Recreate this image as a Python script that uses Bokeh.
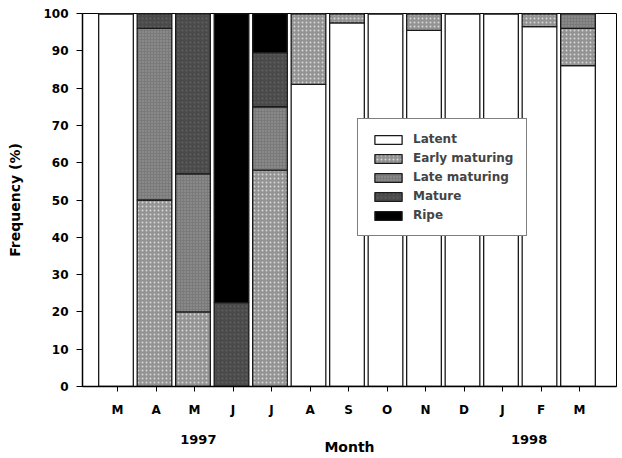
from bokeh.plotting import figure
from bokeh.models import ColumnDataSource, FixedTicker, Legend, LegendItem, LinearAxis, Range1d
from bokeh.embed import file_html
from bokeh.resources import INLINE

# ---- data ----
months = ["M", "A", "M", "J", "J", "A", "S", "O", "N", "D", "J", "F", "M"]
month_pos = [1, 2, 3, 4, 5, 6, 7, 8, 9, 10, 11, 12, 13]
stage_names = ["Latent", "Early maturing", "Late maturing", "Mature", "Ripe"]
latent = [100, 0, 0, 0, 0, 81, 97.5, 100, 95.5, 100, 100, 96.5, 86]
early = [0, 50, 20, 0, 58, 19, 2.5, 0, 4.5, 0, 0, 3.5, 10]
late = [0, 46, 37, 0, 17, 0, 0, 0, 0, 0, 0, 0, 4]
mature = [0, 4, 43, 22.5, 14.5, 0, 0, 0, 0, 0, 0, 0, 0]
ripe = [0, 0, 0, 77.5, 10.5, 0, 0, 0, 0, 0, 0, 0, 0]
year_labels = ["1997", "1998"]
year_pos = [3.1, 11.69]
y_ticks = [0, 10, 20, 30, 40, 50, 60, 70, 80, 90, 100]

FONT = "DejaVu Sans"
BAR_SHIFT = -0.04

src = ColumnDataSource(dict(x=[m + BAR_SHIFT for m in month_pos], latent=latent,
                            early=early, late=late, mature=mature, ripe=ripe))

p = figure(width=622, height=458, output_backend="svg", toolbar_location=None,
           x_range=Range1d(0.09, 13.96), y_range=Range1d(0, 100),
           min_border_left=82, min_border_right=6, min_border_top=13,
           min_border_bottom=72, background_fill_color="white",
           border_fill_color="white")
p.outline_line_color = "black"
p.outline_line_width = 1
p.xgrid.visible = False
p.ygrid.visible = False

keys = ["latent", "early", "late", "mature", "ripe"]
rs = p.vbar_stack(keys, x="x", width=0.9, source=src,
                  fill_color=["white", "#939393", "#7a7a7a", "#4a4a4a", "black"],
                  line_color="#1a1a1a", line_width=1.3,
                  hatch_pattern=[" ", "dot", "dot", "dot", " "],
                  hatch_color=["white", "#d6d6d6", "#a0a0a0", "#5e5e5e", "black"],
                  hatch_scale=[4, 4, 3, 4, 4], hatch_weight=1)

# month axis
xa = p.xaxis[0]
xa.ticker = FixedTicker(ticks=month_pos + [14])
overrides = {m: lab for m, lab in zip(month_pos, months)}
overrides[14] = ""
xa.major_label_overrides = overrides
xa.major_tick_out = 5
xa.major_tick_in = 0
xa.minor_tick_out = 0
xa.minor_tick_in = 0
xa.axis_line_width = 1.5
xa.major_label_standoff = 11
xa.major_label_text_font = FONT
xa.major_label_text_font_style = "bold"
xa.major_label_text_font_size = "12px"
xa.major_label_text_color = "black"

# year axis (second row) carrying the "Month" title
ya2 = LinearAxis(ticker=FixedTicker(ticks=year_pos),
                 major_label_overrides={yp: yl for yp, yl in zip(year_pos, year_labels)})
ya2.axis_line_color = None
ya2.major_tick_line_color = None
ya2.minor_tick_line_color = None
ya2.major_tick_out = 0
ya2.major_tick_in = 0
ya2.minor_tick_out = 0
ya2.minor_tick_in = 0
ya2.major_label_standoff = 15
ya2.major_label_text_font = FONT
ya2.major_label_text_font_style = "bold"
ya2.major_label_text_font_size = "13px"
ya2.major_label_text_color = "black"
ya2.axis_label = "Month"
ya2.axis_label_text_font = FONT
ya2.axis_label_text_font_style = "bold"
ya2.axis_label_text_font_size = "14px"
ya2.axis_label_text_color = "black"
ya2.axis_label_standoff = -8
p.add_layout(ya2, "below")

# y axis
ya = p.yaxis[0]
ya.ticker = FixedTicker(ticks=y_ticks)
ya.major_tick_out = 6
ya.major_tick_in = 0
ya.minor_tick_out = 0
ya.minor_tick_in = 0
ya.axis_line_width = 1.5
ya.major_label_standoff = 8
ya.major_label_text_font = FONT
ya.major_label_text_font_style = "bold"
ya.major_label_text_font_size = "12px"
ya.major_label_text_color = "black"
ya.axis_label = "Frequency (%)"
ya.axis_label_text_font = FONT
ya.axis_label_text_font_style = "bold"
ya.axis_label_text_font_size = "14px"
ya.axis_label_text_color = "black"
ya.axis_label_standoff = 17

legend = Legend(items=[LegendItem(label=n, renderers=[r]) for n, r in zip(stage_names, rs)],
                location=(275, 150), margin=0, padding=13, spacing=5,
                glyph_width=34, glyph_height=11, label_height=12,
                label_standoff=8, label_text_font=FONT,
                label_text_font_style="bold", label_text_font_size="12px",
                border_line_color="black", border_line_width=1,
                background_fill_color="white", background_fill_alpha=1)
p.add_layout(legend)

open("out.html", "w").write(file_html(p, INLINE))
